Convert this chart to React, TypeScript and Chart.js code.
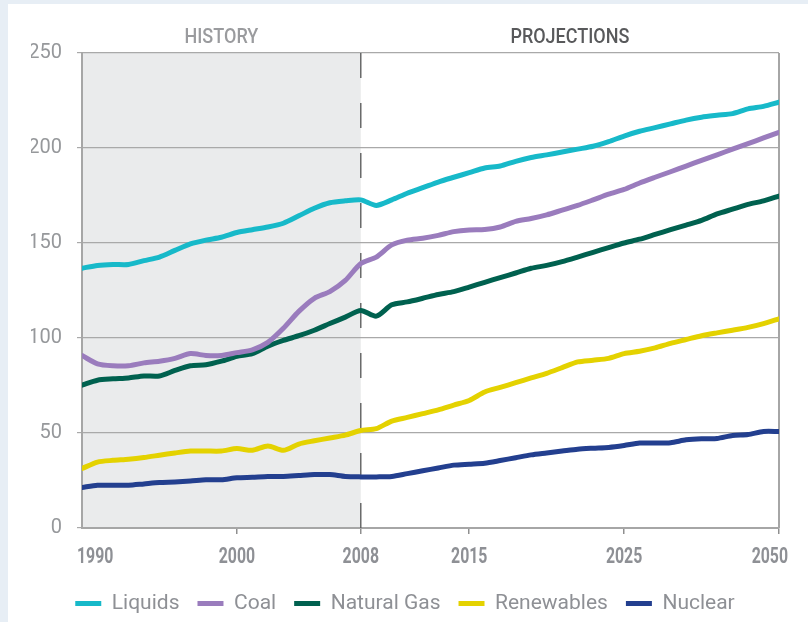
import { useEffect, useRef } from 'react';
import { Chart, registerables } from 'chart.js';

Chart.register(...registerables);

const seriesNames = ['Liquids', 'Coal', 'Natural Gas', 'Renewables', 'Nuclear'];
const seriesColors = ['#17b9c9', '#9a7cbd', '#00614f', '#e4d200', '#233f8f'];

const liquids = [136.7, 138.2, 138.7, 138.7, 140.7, 142.6, 146.1, 149.5, 151.5, 153, 155.5, 157, 158.4, 160.4, 164.3, 168.3, 171.2, 172.2, 172.7, 169.8, 172.7, 176.2, 179.1, 182.1, 184.6, 187, 189.5, 190.5, 193, 195, 196.4, 197.9, 199.4, 200.9, 203.3, 206.3, 208.8, 210.7, 212.7, 214.7, 216.2, 217.2, 218.1, 220.6, 221.9, 224.1];
const coal = [90.8, 86.4, 85.4, 85.4, 86.9, 87.8, 89.3, 91.8, 90.8, 90.8, 92.3, 93.8, 97.7, 105.1, 114, 120.9, 124.4, 130.3, 139.2, 142.6, 149, 151.5, 152.5, 154, 156, 156.9, 157.1, 158.4, 161.4, 162.9, 164.8, 167.3, 169.8, 172.7, 175.7, 178.2, 181.6, 184.6, 187.5, 190.5, 193.5, 196.4, 199.4, 202.3, 205.3, 208.3];
const naturalGas = [75.2, 77.8, 78.5, 79, 80, 80, 82.9, 85.4, 85.9, 87.8, 90.3, 91.8, 95.7, 98.7, 101.2, 104.1, 107.6, 111, 114.5, 111.5, 117.5, 119, 120.9, 122.9, 124.4, 126.8, 129.3, 131.8, 134.2, 136.7, 138.2, 140.2, 142.6, 145.1, 147.6, 150, 152, 154.5, 157, 159.4, 161.9, 165.3, 167.8, 170.3, 172.2, 174.7];
const renewables = [31.3, 34.7, 35.6, 36.2, 37.1, 38.3, 39.5, 40.5, 40.5, 40.5, 41.8, 40.9, 43.2, 40.9, 44.2, 45.9, 47.4, 48.9, 51.3, 52.3, 56.3, 58.2, 60.2, 62.2, 64.7, 67.1, 71.6, 74, 76.5, 79, 81.4, 84.4, 87.4, 88.3, 89.3, 91.8, 93, 94.8, 97.2, 99.2, 101.2, 102.7, 104.1, 105.6, 107.6, 110.1];
const nuclear = [21.3, 22.5, 22.5, 22.5, 23.2, 23.9, 24.2, 24.7, 25.4, 25.4, 26.4, 26.7, 27.1, 27.1, 27.6, 28.1, 28.1, 27.1, 26.9, 26.9, 27.1, 28.6, 30.1, 31.6, 33.1, 33.6, 34.1, 35.5, 37, 38.5, 39.5, 40.5, 41.5, 42, 42.4, 43.4, 44.7, 44.7, 44.9, 46.4, 47, 47.1, 48.7, 49.2, 50.8, 50.8];

const seriesValues = [liquids, coal, naturalGas, renewables, nuclear];

const xTickPositions = [0, 10, 18, 25, 35, 45];
const xTickLabels = ['1990', '2000', '2008', '2015', '2025', '2050'];
const yTickValues = [0, 50, 100, 150, 200, 250];
const historyEndIndex = 18;
const periodLabels = ['HISTORY', 'PROJECTIONS'];

const REGULAR = "'Roboto', 'Noto Sans', sans-serif";

const periodPlugin = {
  id: 'periodPlugin',
  beforeDraw(chart: any) {
    const { ctx, chartArea, scales } = chart;
    const x = scales.x;
    const x0 = x.getPixelForValue(0);
    const x1 = x.getPixelForValue(historyEndIndex);
    ctx.save();
    ctx.fillStyle = '#eaebec';
    ctx.fillRect(x0, chartArea.top, x1 - x0, chartArea.bottom - chartArea.top);
    ctx.restore();
  },
  beforeDatasetsDraw(chart: any) {
    const { ctx, chartArea, scales } = chart;
    const x = scales.x;
    const x1 = x.getPixelForValue(historyEndIndex);
    ctx.save();
    ctx.strokeStyle = '#555555';
    ctx.lineWidth = 1.3;
    ctx.setLineDash([25, 25]);
    ctx.beginPath();
    ctx.moveTo(x1, chartArea.top);
    ctx.lineTo(x1, chartArea.bottom);
    ctx.stroke();
    ctx.setLineDash([]);
    ctx.strokeStyle = '#a6a6a6';
    ctx.lineWidth = 2;
    ctx.beginPath();
    ctx.moveTo(chartArea.right, chartArea.top);
    ctx.lineTo(chartArea.right, chartArea.bottom);
    ctx.stroke();
    ctx.restore();
  },
  afterDraw(chart: any) {
    const { ctx, chartArea, scales } = chart;
    const x = scales.x;
    const x0 = x.getPixelForValue(0);
    const x1 = x.getPixelForValue(historyEndIndex);
    const x2 = x.getPixelForValue(45);
    ctx.save();
    ctx.textAlign = 'center';
    ctx.textBaseline = 'middle';
    ctx.font = `500 20px ${REGULAR}`;
    ctx.fillStyle = '#9a9b9e';
    ctx.save();
    ctx.translate((x0 + x1) / 2, chartArea.top - 15);
    ctx.scale(0.9, 1);
    ctx.fillText(periodLabels[0], 0, 0);
    ctx.restore();
    ctx.fillStyle = '#58595b';
    ctx.save();
    ctx.translate((x1 + x2) / 2, chartArea.top - 15);
    ctx.scale(0.9, 1);
    ctx.fillText(periodLabels[1], 0, 0);
    ctx.restore();

    // condensed bold x-axis labels
    ctx.font = `bold 22px ${REGULAR}`;
    ctx.fillStyle = '#8e9095';
    const y = chartArea.bottom + 29;
    xTickPositions.forEach((v, k) => {
      const px = x.getPixelForValue(v);
      ctx.save();
      if (k === 0) {
        ctx.textAlign = 'left';
        ctx.translate(px - 5, y);
      } else if (k === xTickPositions.length - 1) {
        ctx.textAlign = 'right';
        ctx.translate(px + 9, y);
      } else {
        ctx.textAlign = 'center';
        ctx.translate(px, y);
      }
      ctx.scale(0.72, 1);
      ctx.fillText(xTickLabels[k], 0, 0);
      ctx.restore();
    });
    ctx.restore();
  },
};

export default function App() {
  const canvasRef = useRef<HTMLCanvasElement | null>(null);

  useEffect(() => {
    if (!canvasRef.current) return;
    const chart = new Chart(canvasRef.current, {
      type: 'line',
      data: {
        datasets: seriesNames.map((name, si) => ({
          label: name,
          data: seriesValues[si].map((v, i) => ({ x: i, y: v })),
          borderColor: seriesColors[si],
          backgroundColor: seriesColors[si],
          borderWidth: 5,
          pointRadius: 0,
          tension: 0.25,
          borderCapStyle: 'round' as const,
          borderJoinStyle: 'round' as const,
          fill: false,
        })),
      },
      options: {
        animation: false,
        responsive: false,
        maintainAspectRatio: false,
        layout: { padding: { top: 53, right: 29, left: 31, bottom: -2 } },
        plugins: {
          tooltip: { enabled: false },
          legend: {
            position: 'bottom',
            labels: {
              boxWidth: 26,
              boxHeight: 5,
              padding: 18,
              color: '#8e9095',
              font: { family: REGULAR, size: 21 },
              generateLabels: (c: any) =>
                c.data.datasets.map((d: any, i: number) => ({
                  text: d.label,
                  fillStyle: d.borderColor,
                  strokeStyle: d.borderColor,
                  lineWidth: 0,
                  fontColor: '#8e9095',
                  hidden: false,
                  datasetIndex: i,
                })),
            },
          },
        },
        scales: {
          x: {
            type: 'linear',
            min: 0,
            max: 45,
            afterFit: (s: any) => {
              s.height = 47;
            },
            afterBuildTicks: (s: any) => {
              s.ticks = xTickPositions.map((v) => ({ value: v }));
            },
            ticks: {
              display: false,
            },
            grid: {
              drawOnChartArea: false,
              drawTicks: true,
              tickLength: 6,
              lineWidth: 1.5,
              color: (ctx: any) => (ctx.index === 0 ? 'rgba(0,0,0,0)' : '#8f8f8f'),
            },
            border: { color: '#a6a6a6', width: 2 },
          },
          y: {
            min: 0,
            max: 250,
            afterFit: (s: any) => {
              s.width = 51;
            },
            afterBuildTicks: (s: any) => {
              s.ticks = yTickValues.map((v) => ({ value: v }));
            },
            ticks: {
              padding: 15,
              color: '#96989b',
              font: { family: REGULAR, size: 20 },
            },
            grid: {
              color: '#a9a9a9',
              lineWidth: 1.2,
              tickLength: 5,
            },
            border: { color: '#a6a6a6', width: 2 },
          },
        },
      },
      plugins: [periodPlugin],
    });
    return () => chart.destroy();
  }, []);

  return (
    <div style={{ position: 'fixed', left: 0, top: 0, width: 808, height: 622, background: '#e7eef5', overflow: 'hidden' }}>
      <div style={{ position: 'absolute', left: 8, top: 4, right: 0, bottom: 0, background: '#ffffff' }} />
      <canvas ref={canvasRef} width={808} height={622} style={{ position: 'absolute', left: 0, top: 0, width: 808, height: 622 }} />
    </div>
  );
}
